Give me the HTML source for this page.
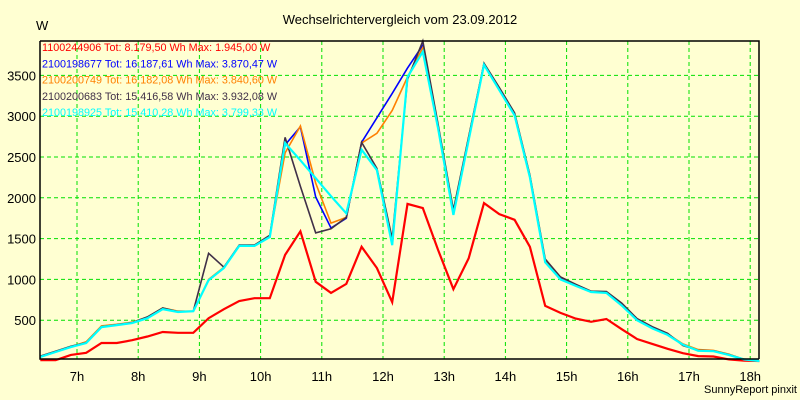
<!DOCTYPE html>
<html><head><meta charset="utf-8"><style>
html,body{margin:0;padding:0;background:#ffffd2;}
svg{display:block;font-family:"Liberation Sans",sans-serif;}
</style></head><body>
<svg id="chart" width="800" height="400" viewBox="0 0 800 400">
<rect x="0" y="0" width="800" height="400" fill="#ffffd2"/>
<text x="400" y="24" text-anchor="middle" font-size="13" fill="#000">Wechselrichtervergleich vom 23.09.2012</text>
<text x="36" y="30" font-size="13" fill="#000">W</text>
<text x="797" y="393" text-anchor="end" font-size="11" fill="#000">SunnyReport pinxit</text>
<g id="grid"></g>
<g id="series"></g>
<g id="axes"></g>
<g id="legend"></g>
</svg>
<script>
const hourTicks = [7,8,9,10,11,12,13,14,15,16,17,18];
const hourLabels = ["7h","8h","9h","10h","11h","12h","13h","14h","15h","16h","17h","18h"];
const valueTicks = [500,1000,1500,2000,2500,3000,3500];
const startHour = 6.4;
const stepHour = 0.25;
const redValues = [10,10,75,100,220,220,255,300,355,345,345,525,635,735,770,770,1300,1590,970,835,945,1400,1140,720,1925,1875,1360,880,1260,1935,1800,1730,1400,675,590,520,480,515,390,270,210,150,95,60,55,20,5,0];
const blueValues = [55,115,170,225,420,445,470,530,640,605,610,990,1140,1410,1415,1530,2650,2870,2010,1630,1750,2680,2980,3280,3590,3870,2880,1820,2730,3640,3330,3020,2260,1220,1020,930,850,845,690,510,410,330,205,130,125,80,20,0];
const orangeValues = [55,115,175,235,430,450,475,535,650,610,610,1000,1150,1415,1420,1530,2550,2880,2180,1690,1760,2670,2790,3070,3480,3840,2870,1810,2740,3640,3340,3030,2260,1220,1030,935,855,845,700,515,415,330,210,140,130,85,20,0];
const darkValues = [60,120,180,225,420,445,470,540,650,605,610,1320,1150,1420,1420,1540,2740,2140,1570,1620,1760,2680,2360,1500,3450,3930,2900,1850,2750,3650,3350,3040,2280,1250,1030,940,855,850,710,520,420,340,190,130,125,80,20,0];
const cyanValues = [50,110,170,220,415,440,465,525,635,600,610,990,1140,1410,1410,1520,2670,2460,2240,2020,1810,2590,2340,1420,3480,3790,2850,1790,2710,3630,3320,3010,2250,1210,1000,920,845,835,680,500,400,320,200,125,120,75,20,0];
const seriesNames = ["1100244906","2100198677","2100200749","2100200683","2100198925"];
const legendTexts = ["1100244906 Tot: 8.179,50 Wh Max: 1.945,00 W","2100198677 Tot: 16.187,61 Wh Max: 3.870,47 W","2100200749 Tot: 16.182,08 Wh Max: 3.840,60 W","2100200683 Tot: 15.416,58 Wh Max: 3.932,08 W","2100198925 Tot: 15.410,28 Wh Max: 3.799,33 W"];

const NS="http://www.w3.org/2000/svg";
const L=40,R=759,T=41,B=359;
const xAt=h=>77+(h-7)*61.2;
const yAt=v=>Math.max(T,361-v*0.0816);
function mk(tag,attrs,parent){const e=document.createElementNS(NS,tag);for(const k in attrs)e.setAttribute(k,attrs[k]);parent.appendChild(e);return e;}
const grid=document.getElementById('grid'),axes=document.getElementById('axes'),sg=document.getElementById('series'),lg=document.getElementById('legend');
hourTicks.forEach((h,i)=>{
  const x=xAt(h);
  const gl=mk('line',{x1:x,x2:x,y1:T,y2:B,stroke:'#00e000','stroke-width':1,'stroke-dasharray':'4,3'},grid);
  
  
  const t=mk('text',{x:x,y:381,'text-anchor':'middle','font-size':13,fill:'#000'},axes);
  t.textContent=hourLabels[i];
  
  
});
valueTicks.forEach(v=>{
  const y=yAt(v);
  const gl=mk('line',{x1:L,x2:R,y1:y,y2:y,stroke:'#00e000','stroke-width':1,'stroke-dasharray':'4,3'},grid);
  
  
  const t=mk('text',{x:36,y:y+5,'text-anchor':'end','font-size':13,fill:'#000'},axes);
  t.textContent=String(v);
  
  
});
const frame=mk('path',{d:`M${L},${T}H${R}V${B}M${L},${T}V${B}H${R}`,fill:'none',stroke:'#000','stroke-width':1.5},axes);


const all=[redValues,blueValues,orangeValues,darkValues,cyanValues];
const colors=['#ff0000','#0000ff','#ff8000','#403048','#00ffff'];
const widths=[2.2,1.6,1.6,1.6,2.2];
const names=['series-red-line','series-blue-line','series-orange-line','series-dark-line','series-cyan-line'];
all.forEach((vals,si)=>{
  const d=vals.map((v,i)=>(i?'L':'M')+xAt(startHour+i*stepHour).toFixed(1)+','+yAt(v).toFixed(1)).join('');
  const p=mk('path',{d:d,fill:'none',stroke:colors[si],'stroke-width':widths[si],'stroke-linejoin':'miter'},sg);
  
  
});
legendTexts.forEach((s,i)=>{
  const t=mk('text',{x:42,y:51+i*16.3,'font-size':10.8,fill:colors[i]},lg);
  t.textContent=s;
  
  
});
</script>
</body></html>
